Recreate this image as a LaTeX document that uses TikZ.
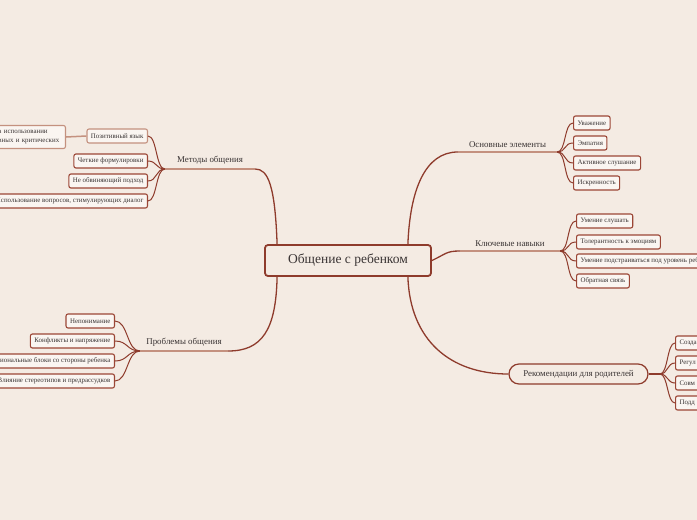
\documentclass[tikz,border=0pt]{standalone}
\usepackage{fontspec}
\setmainfont{Liberation Serif}
\usetikzlibrary{positioning,calc}
\definecolor{bgcolor}{HTML}{F4EBE3}
\definecolor{linecolor}{HTML}{8E3B2C}
\definecolor{boxcolor}{HTML}{9B4636}
\definecolor{softcolor}{HTML}{C4917F}
\definecolor{textcolor}{HTML}{3A3434}

\begin{document}
\begin{tikzpicture}[
    x=1pt, y=-1pt,
    root/.style={
        rectangle,
        draw=linecolor,
        line width=1.8pt,
        rounded corners=3pt,
        minimum width=166pt,
        minimum height=31pt,
        text=textcolor,
        font=\fontsize{13.5}{16}\selectfont
    },
    topic/.style={
        inner xsep=0pt,
        inner ysep=4pt,
        anchor=south,
        text=textcolor,
        font=\fontsize{8.9}{10}\selectfont
    },
    pill/.style={
        rectangle,
        draw=linecolor,
        line width=1.2pt,
        rounded corners=10pt,
        minimum width=139pt,
        minimum height=20pt,
        text=textcolor,
        font=\fontsize{8.9}{10}\selectfont
    },
    leaf/.style={
        rectangle,
        draw=boxcolor,
        fill=bgcolor!50!white,
        line width=1.1pt,
        rounded corners=2pt,
        minimum height=14pt,
        inner xsep=4pt,
        inner ysep=0pt,
        text=textcolor,
        font=\fontsize{6.9}{8}\selectfont
    },
    softleaf/.style={leaf, draw=softcolor},
    branch/.style={draw=linecolor, line width=1.3pt},
    twig/.style={draw=linecolor, line width=1pt},
    baseline/.style={draw=softcolor, line width=2pt}
]

% --- CANVAS ---
\useasboundingbox (0,0) rectangle (697,520);
\clip (0,0) rectangle (697,520);
\fill[bgcolor] (0,0) rectangle (697,520);

% --- CENTRE ---
\node[root] (root) at (348,260.5) {Общение с ребенком};

% --- TOPICS ---
\node[topic, minimum width=99pt] (osn) at (507.5,152) {Основные элементы};
\node[topic, minimum width=100pt] (klu) at (510,251) {Ключевые навыки};
\node[pill] (rec) at (578.5,374) {Рекомендации для родителей};
\node[topic, minimum width=90pt] (met) at (210,169) {Методы общения};
\node[topic, minimum width=88pt] (pro) at (184,351) {Проблемы общения};
\coordinate (rec_j) at (660,374);

% Underlines of topics
\draw[baseline] (osn.south west) -- (osn.south east);
\draw[baseline] (klu.south west) -- (klu.south east);
\draw[baseline] (met.south west) -- (met.south east);
\draw[baseline] (pro.south west) -- (pro.south east);

% --- LEAVES: right side ---
\node[leaf, anchor=west] (uva) at (573,123) {Уважение};
\node[leaf, anchor=west] (emp) at (573,143) {Эмпатия};
\node[leaf, anchor=west] (akt) at (573,163) {Активное слушание};
\node[leaf, anchor=west] (isk) at (573,183) {Искренность};

\node[leaf, anchor=west] (slu) at (576,221) {Умение слушать};
\node[leaf, anchor=west] (tol) at (576,242) {Толерантность к эмоциям};
\node[leaf, anchor=west] (pod) at (576,261) {Умение подстраиваться под уровень ребенка};
\node[leaf, anchor=west] (obr) at (576,281) {Обратная связь};

\node[leaf, anchor=west, text width=40pt, align=left] (sozd) at (675,343) {Созда};
\node[leaf, anchor=west, text width=40pt, align=left] (reg) at (675,363) {Регул};
\node[leaf, anchor=west, text width=40pt, align=left] (sovm) at (675,383) {Совм};
\node[leaf, anchor=west, text width=40pt, align=left] (podd) at (675,403) {Подд};

% --- LEAVES: left side ---
\node[softleaf, anchor=east] (poz) at (148,136) {Позитивный язык};
\node[leaf, anchor=east] (chet) at (148,161) {Четкие формулировки};
\node[leaf, anchor=east] (neob) at (148,181) {Не обвиняющий подход};
\node[leaf, anchor=east] (vopr) at (148,201) {Использование вопросов, стимулирующих диалог};
\node[softleaf, anchor=east, text width=63pt, align=left, minimum height=23pt,
      font=\fontsize{6.9}{8.5}\selectfont] (krit) at (66,137)
      {а использовании\\вных и критических};

\node[leaf, anchor=east] (nep) at (115,321) {Непонимание};
\node[leaf, anchor=east] (konf) at (115,341) {Конфликты и напряжение};
\node[leaf, anchor=east] (emob) at (115,361) {Эмоциональные блоки со стороны ребенка};
\node[leaf, anchor=east] (ster) at (115,381) {Влияние стереотипов и предрассудков};

% --- BRANCHES FROM CENTRE ---
\draw[branch] ($(root.north east)+(-24,0)$) .. controls (410,190) and (425,152) .. (osn.south west);
\draw[branch] (root.east) .. controls (446,254) and (446,251) .. (klu.south west);
\draw[branch] ($(root.south east)+(-24,0)$) .. controls (410,340) and (450,374) .. (rec.west);
\draw[branch] ($(root.north west)+(13,0)$) .. controls (275,185) and (268,169) .. (met.south east);
\draw[branch] ($(root.south west)+(13,0)$) .. controls (276,330) and (262,351) .. (pro.south east);
\draw[branch] (rec.east) -- (rec_j);

% --- TWIGS TO LEAVES ---
\foreach \leafname in {uva,emp,akt,isk}
    \draw[twig] (osn.south east) .. controls +(9,0) and +(-9,0) .. (\leafname.west);
\foreach \leafname in {slu,tol,pod,obr}
    \draw[twig] (klu.south east) .. controls +(9,0) and +(-9,0) .. (\leafname.west);
\foreach \leafname in {sozd,reg,sovm,podd}
    \draw[twig] (rec_j) .. controls +(8,0) and +(-8,0) .. (\leafname.west);
\foreach \leafname in {poz,chet,neob,vopr}
    \draw[twig] (met.south west) .. controls +(-9,0) and +(9,0) .. (\leafname.east);
\foreach \leafname in {nep,konf,emob,ster}
    \draw[twig] (pro.south west) .. controls +(-13,0) and +(13,0) .. (\leafname.east);
\draw[baseline, line width=1.5pt] (poz.west) -- (krit.east);

\end{tikzpicture}
\end{document}
